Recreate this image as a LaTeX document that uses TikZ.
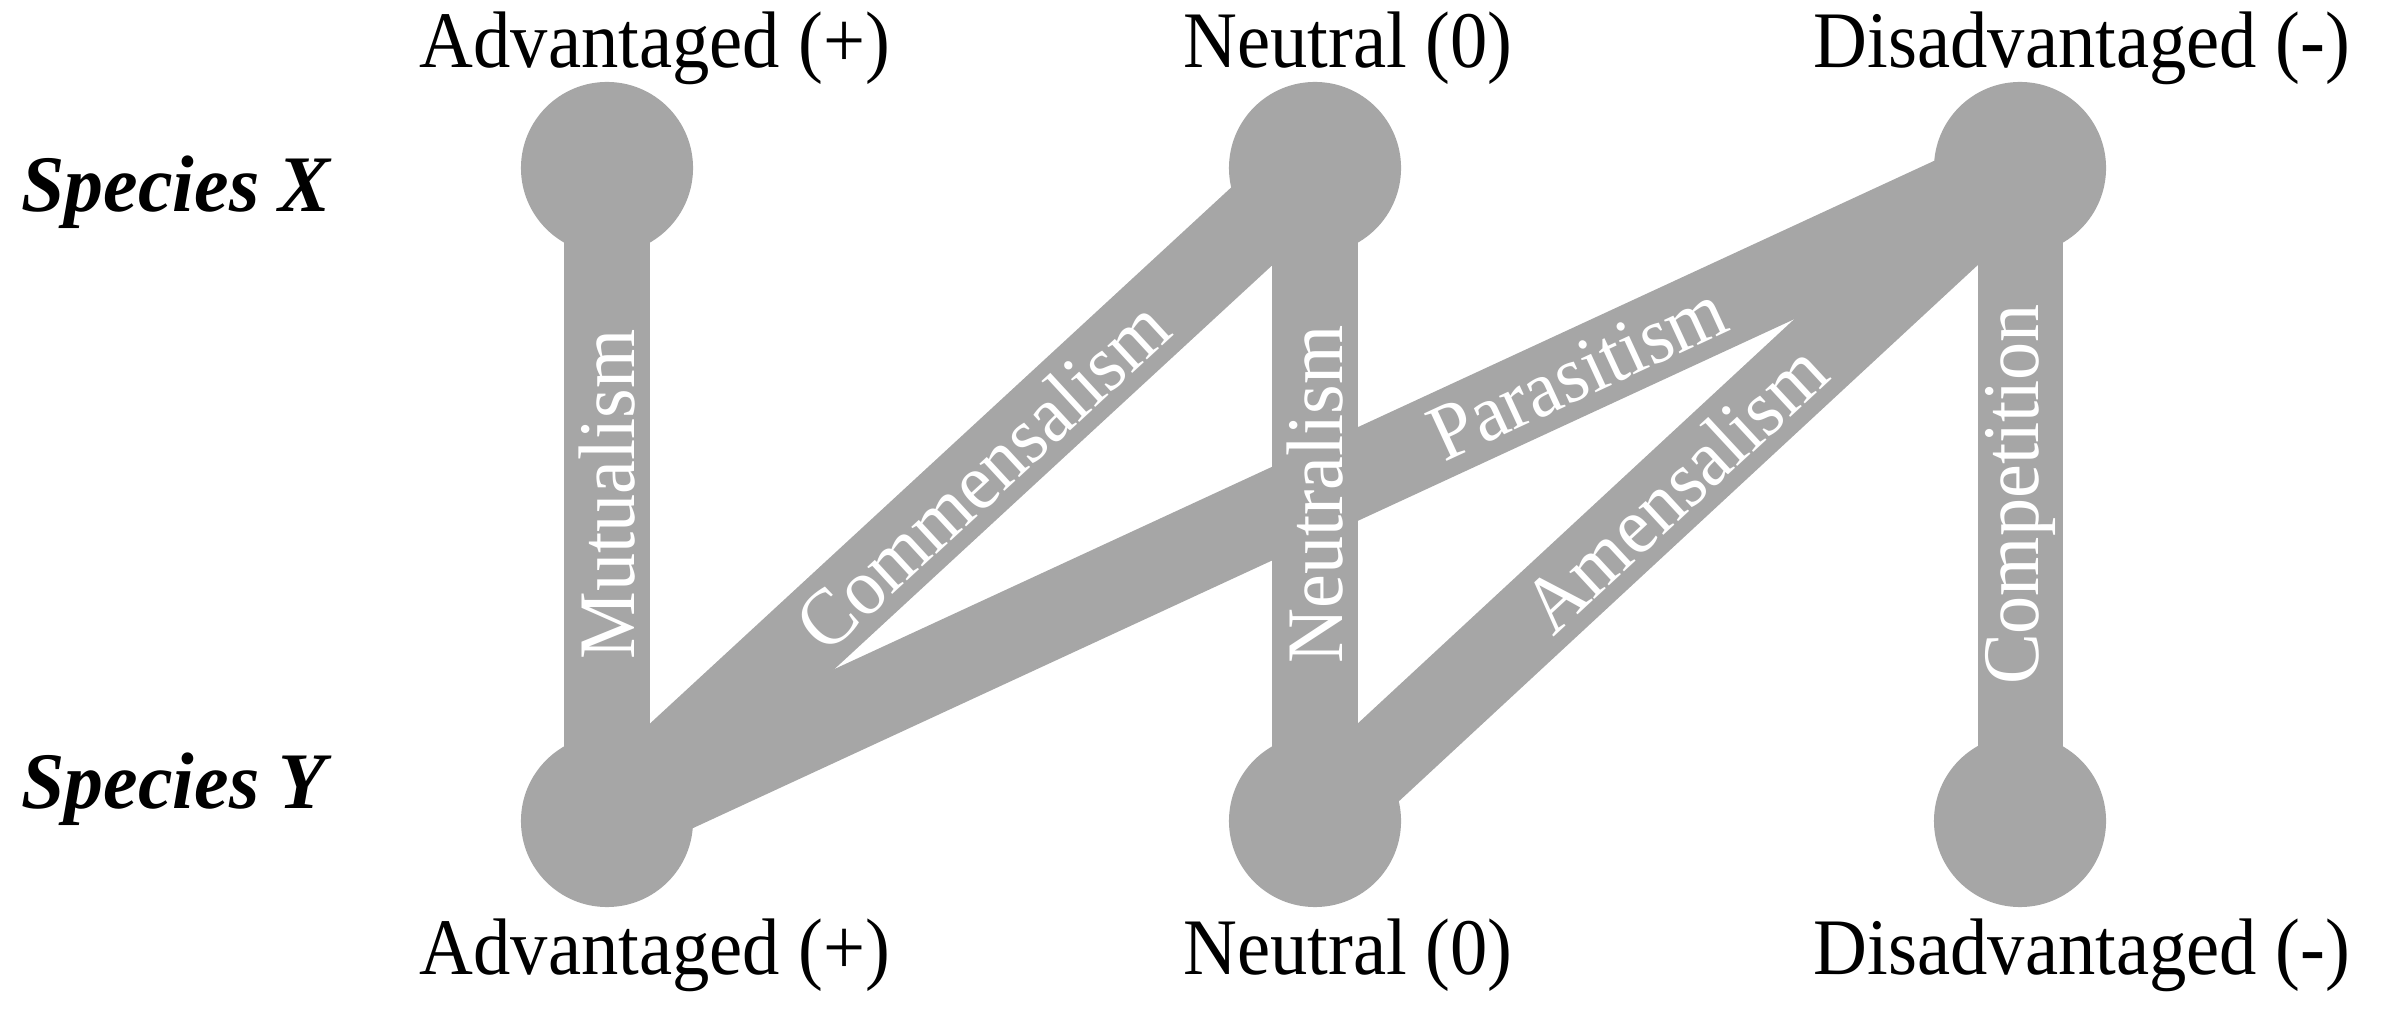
\documentclass[tikz,border=0pt]{standalone}
\usepackage{fontspec}
\setmainfont{Liberation Serif}
\newfontfamily\lblfont[FakeStretch=0.93]{Liberation Serif}
\newfontfamily\barfont[FakeStretch=0.95]{Liberation Serif}
\newfontfamily\spfont[FakeStretch=0.97]{Liberation Serif}
\definecolor{bargray}{HTML}{A6A6A6}
\begin{document}
\begin{tikzpicture}[x=0.01cm,y=-0.01cm,
  state/.style={circle, fill=bargray, minimum size=1.72cm, inner sep=0pt},
  bar/.style={draw=bargray, line width=0.85cm, line cap=butt},
  barlbl/.style={sloped, text=white, font=\barfont\fontsize{22.8pt}{24pt}\selectfont, inner sep=0pt},
  vbarlbl/.style={rotate=90, text=white, font=\barfont\fontsize{22.8pt}{24pt}\selectfont, inner sep=0pt},
  collbl/.style={anchor=base, font=\lblfont\fontsize{22.8pt}{24pt}\selectfont, inner sep=0pt},
  sp/.style={anchor=base west, font=\spfont\bfseries\itshape\fontsize{22.8pt}{24pt}\selectfont, inner sep=0pt}]
\useasboundingbox (0,0) rectangle (2400,1010);

% state circles
\node[state] (x1) at (607,168) {};
\node[state] (x2) at (1315,168) {};
\node[state] (x3) at (2020,168) {};
\node[state] (y1) at (607,821) {};
\node[state] (y2) at (1315,821) {};
\node[state] (y3) at (2020,821) {};

% bars
\draw[bar] (y1.center) -- (x1.center);
\draw[bar] (y1.center) -- (x2.center);
\draw[bar] (y1.center) -- (x3.center);
\draw[bar] (y2.center) -- (x2.center);
\draw[bar] (y2.center) -- (x3.center);
\draw[bar] (y3.center) -- (x3.center);

% bar labels
\path (y1.center) -- (x1.center) node[vbarlbl, pos=0.5] (lmut) {Mutualism};
\path (y1.center) -- (x2.center) node[barlbl, pos=0.53] (lcom) {Commensalism};
\path (y1.center) -- (x3.center) node[barlbl, pos=0.687] (lpar) {Parasitism};
\path (y2.center) -- (x2.center) node[vbarlbl, pos=0.5] (lneu) {Neutralism};
\path (y2.center) -- (x3.center) node[barlbl, pos=0.51] (lame) {Amensalism};
\path (y3.center) -- (x3.center) node[vbarlbl, pos=0.5] (lcmp) {Competition};

% column labels
\node[collbl] (tx1) at (655,68) {Advantaged (+)};
\node[collbl] (tx2) at (1348,68) {Neutral (0)};
\node[collbl] (tx3) at (2082,68) {Disadvantaged (-)};
\node[collbl] (ty1) at (655,974) {Advantaged (+)};
\node[collbl] (ty2) at (1348,974) {Neutral (0)};
\node[collbl] (ty3) at (2082,974) {Disadvantaged (-)};

% row labels
\node[sp] (spx) at (21,212) {Species X};
\node[sp] (spy) at (21,808) {Species Y};
\end{tikzpicture}
\end{document}
